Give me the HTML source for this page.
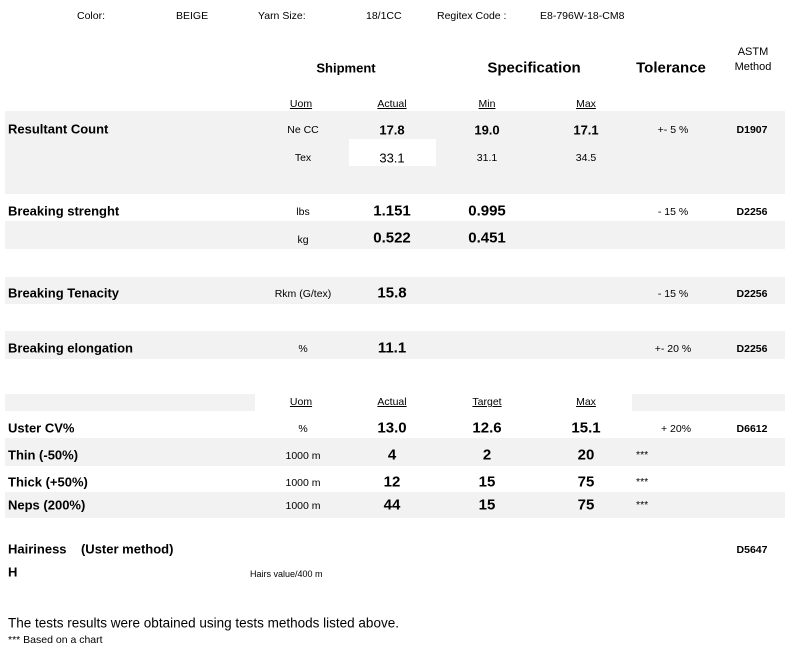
<!DOCTYPE html>
<html><head><meta charset="utf-8"><style>
body{margin:0;width:793px;height:651px;background:#fff;position:relative;overflow:hidden;font-family:"Liberation Sans",sans-serif;color:#000}
.b{position:absolute;background:#f2f2f2}
.t{position:absolute;white-space:nowrap;transform:translate(-50%,-50%)}
.l{position:absolute;white-space:nowrap;transform:translateY(-50%)}
.s{font-size:10.5px}.m{font-size:13px}.g{font-size:15px;font-weight:bold}.h{font-size:13px;font-weight:bold}
u{text-decoration:underline}
</style></head><body>
<div class="b" style="left:5px;top:111px;width:780px;height:28px"></div>
<div class="b" style="left:5px;top:139px;width:344px;height:27px"></div>
<div class="b" style="left:436px;top:139px;width:349px;height:27px"></div>
<div class="b" style="left:5px;top:166px;width:780px;height:28px"></div>
<div class="b" style="left:5px;top:221px;width:780px;height:28px"></div>
<div class="b" style="left:5px;top:277px;width:780px;height:27px"></div>
<div class="b" style="left:5px;top:331px;width:780px;height:28px"></div>
<div class="b" style="left:5px;top:394px;width:250px;height:17px"></div>
<div class="b" style="left:632px;top:394px;width:153px;height:17px"></div>
<div class="b" style="left:5px;top:438px;width:780px;height:28px"></div>
<div class="b" style="left:5px;top:492px;width:780px;height:26px"></div>

<div class="l s" style="left:77px;top:16px">Color:</div>
<div class="l s" style="left:176px;top:16px">BEIGE</div>
<div class="l s" style="left:258px;top:16px">Yarn Size:</div>
<div class="l s" style="left:366px;top:16px">18/1CC</div>
<div class="l s" style="left:437px;top:16px">Regitex Code :</div>
<div class="l s" style="left:540px;top:16px">E8-796W-18-CM8</div>

<div class="t h" style="left:346px;top:68px;font-size:13px">Shipment</div>
<div class="t h" style="left:534px;top:68px;font-size:15px">Specification</div>
<div class="t h" style="left:671px;top:68px;font-size:15px">Tolerance</div>
<div class="t" style="left:753px;top:52px;font-size:11px">ASTM</div>
<div class="t" style="left:753px;top:67px;font-size:11px">Method</div>

<div class="t s" style="left:301px;top:104px"><u>Uom</u></div>
<div class="t s" style="left:392px;top:104px"><u>Actual</u></div>
<div class="t s" style="left:487px;top:104px"><u>Min</u></div>
<div class="t s" style="left:586px;top:104px"><u>Max</u></div>

<div class="l h" style="left:8px;top:129px">Resultant Count</div>
<div class="t s" style="left:303px;top:130px">Ne CC</div>
<div class="t m" style="left:392px;top:130px;font-weight:bold">17.8</div>
<div class="t m" style="left:487px;top:130px;font-weight:bold">19.0</div>
<div class="t m" style="left:586px;top:130px;font-weight:bold">17.1</div>
<div class="t s" style="left:673px;top:130px">+- 5 %</div>
<div class="t s" style="left:752px;top:130px;font-weight:bold">D1907</div>

<div class="t s" style="left:303px;top:158px">Tex</div>
<div class="t m" style="left:392px;top:158px">33.1</div>
<div class="t s" style="left:487px;top:158px">31.1</div>
<div class="t s" style="left:586px;top:158px">34.5</div>

<div class="l h" style="left:8px;top:211px">Breaking strenght</div>
<div class="t s" style="left:303px;top:212px">lbs</div>
<div class="t g" style="left:392px;top:211px">1.151</div>
<div class="t g" style="left:487px;top:211px">0.995</div>
<div class="t s" style="left:673px;top:212px">- 15 %</div>
<div class="t s" style="left:752px;top:212px;font-weight:bold">D2256</div>
<div class="t s" style="left:303px;top:240px">kg</div>
<div class="t g" style="left:392px;top:238px">0.522</div>
<div class="t g" style="left:487px;top:238px">0.451</div>

<div class="l h" style="left:8px;top:293px">Breaking Tenacity</div>
<div class="t s" style="left:303px;top:294px">Rkm (G/tex)</div>
<div class="t g" style="left:392px;top:293px">15.8</div>
<div class="t s" style="left:673px;top:294px">- 15 %</div>
<div class="t s" style="left:752px;top:294px;font-weight:bold">D2256</div>

<div class="l h" style="left:8px;top:348px">Breaking elongation</div>
<div class="t s" style="left:303px;top:349px">%</div>
<div class="t g" style="left:392px;top:348px">11.1</div>
<div class="t s" style="left:673px;top:349px">+- 20 %</div>
<div class="t s" style="left:752px;top:349px;font-weight:bold">D2256</div>

<div class="t s" style="left:301px;top:402px"><u>Uom</u></div>
<div class="t s" style="left:392px;top:402px"><u>Actual</u></div>
<div class="t s" style="left:487px;top:402px"><u>Target</u></div>
<div class="t s" style="left:586px;top:402px"><u>Max</u></div>

<div class="l h" style="left:8px;top:428px">Uster CV%</div>
<div class="t s" style="left:303px;top:429px">%</div>
<div class="t g" style="left:392px;top:428px">13.0</div>
<div class="t g" style="left:487px;top:428px">12.6</div>
<div class="t g" style="left:586px;top:428px">15.1</div>
<div class="t s" style="left:676px;top:429px">+ 20%</div>
<div class="t s" style="left:752px;top:429px;font-weight:bold">D6612</div>

<div class="l h" style="left:8px;top:455px">Thin (-50%)</div>
<div class="t s" style="left:303px;top:456px">1000 m</div>
<div class="t g" style="left:392px;top:455px">4</div>
<div class="t g" style="left:487px;top:455px">2</div>
<div class="t g" style="left:586px;top:455px">20</div>
<div class="l s" style="left:636px;top:455px">***</div>

<div class="l h" style="left:8px;top:482px">Thick (+50%)</div>
<div class="t s" style="left:303px;top:483px">1000 m</div>
<div class="t g" style="left:392px;top:482px">12</div>
<div class="t g" style="left:487px;top:482px">15</div>
<div class="t g" style="left:586px;top:482px">75</div>
<div class="l s" style="left:636px;top:482px">***</div>

<div class="l h" style="left:8px;top:505px">Neps (200%)</div>
<div class="t s" style="left:303px;top:506px">1000 m</div>
<div class="t g" style="left:392px;top:505px">44</div>
<div class="t g" style="left:487px;top:505px">15</div>
<div class="t g" style="left:586px;top:505px">75</div>
<div class="l s" style="left:636px;top:505px">***</div>

<div class="l h" style="left:8px;top:549px">Hairiness&nbsp;&nbsp;&nbsp;&nbsp;(Uster method)</div>
<div class="t s" style="left:752px;top:550px;font-weight:bold">D5647</div>
<div class="l h" style="left:8px;top:572px">H</div>
<div class="l" style="left:250px;top:574px;font-size:9px">Hairs value/400 m</div>

<div class="l" style="left:8px;top:623px;font-size:13.5px">The tests results were obtained using tests methods listed above.</div>
<div class="l" style="left:8px;top:640px;font-size:10.5px">*** Based on a chart</div>
</body></html>
